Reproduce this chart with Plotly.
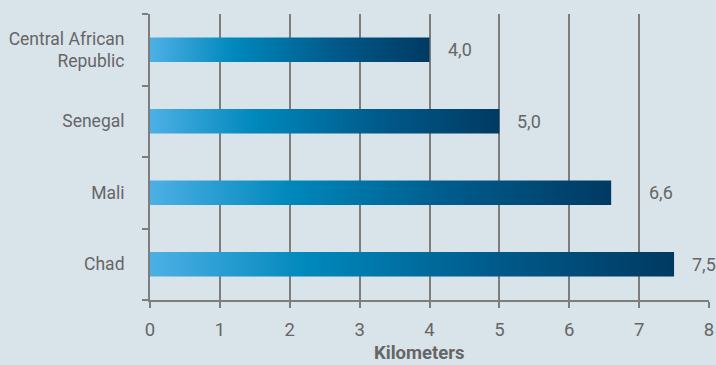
import plotly.graph_objects as go

categories = ["Central African<br>Republic", "Senegal", "Mali", "Chad"]
values = [4.0, 5.0, 6.6, 7.5]
value_labels = ["4,0", "5,0", "6,6", "7,5"]
x_ticks = [0, 1, 2, 3, 4, 5, 6, 7, 8]
x_title = "Kilometers"

BG = "#d9e3ea"
GRID = "#7d7d7d"
TXT = "#666666"
gradient = [[0, "#4db0e5"], [0.3, "#0088bc"], [0.65, "#005b8c"], [1, "#003a62"]]

n = len(categories)
ypos = [n - 1 - i for i in range(n)]
half = 0.17

fig = go.Figure()
for cat, v, yc in zip(categories, values, ypos):
    fig.add_trace(go.Scatter(
        x=[0, v, v, 0, 0],
        y=[yc - half, yc - half, yc + half, yc + half, yc - half],
        mode="lines", line=dict(width=0), fill="toself",
        fillgradient=dict(type="horizontal", colorscale=gradient, start=0, stop=v),
        hoverinfo="skip", showlegend=False,
    ))

# labels sit just right of the bar; if a gridline would cut the label, move past it
for v, lab, yc in zip(values, value_labels, ypos):
    next_grid = int(v) + 1
    crosses = (next_grid - v) * 69.9 < 40 and (next_grid - v) > 0.2 and next_grid < 8
    shift = ((next_grid - v) * 69.9 + 8) if crosses else 16
    fig.add_annotation(x=v, y=yc, text=lab, showarrow=False, xanchor="left",
                       xshift=shift, font=dict(family="Roboto", size=18, color=TXT))

fig.add_annotation(xref="paper", yref="paper", x=0.5, y=0, xanchor="center",
                   yanchor="top", xshift=-10, yshift=-41, showarrow=False,
                   text=f"<b>{x_title}</b>", borderpad=0,
                   font=dict(family="Roboto", size=18.5, color=TXT))

fig.update_layout(
    template="none",
    width=716, height=365,
    margin=dict(l=150, r=7, t=14, b=65, autoexpand=False),
    paper_bgcolor=BG, plot_bgcolor=BG,
    font=dict(family="Roboto", size=17, color=TXT),
    xaxis=dict(
        automargin=False,
        range=[0, 8], tickvals=x_ticks, ticktext=[str(t) for t in x_ticks],
        showgrid=False, zeroline=False,
        showline=True, linecolor=GRID, linewidth=2,
        ticks="outside", ticklen=6, tickcolor=GRID, tickwidth=1.5,
        tickfont=dict(size=18.5, color=TXT), ticklabelstandoff=6,
        minor=dict(tickvals=[1, 2, 3, 4, 5, 6, 7], showgrid=True,
                   gridcolor=GRID, gridwidth=1.5, ticks=""),
    ),
    yaxis=dict(
        automargin=False,
        range=[-0.5, n - 0.5], tickvals=ypos, ticktext=categories,
        showgrid=False, zeroline=False,
        showline=True, linecolor=GRID, linewidth=2,
        ticks="", ticklabelstandoff=20,
        tickfont=dict(size=17.5, color=TXT),
        minor=dict(tickvals=[i - 0.5 for i in range(n + 1)], ticks="outside",
                   ticklen=6, tickcolor=GRID, tickwidth=1.5, showgrid=False),
    ),
)

fig.write_html("out.html")
